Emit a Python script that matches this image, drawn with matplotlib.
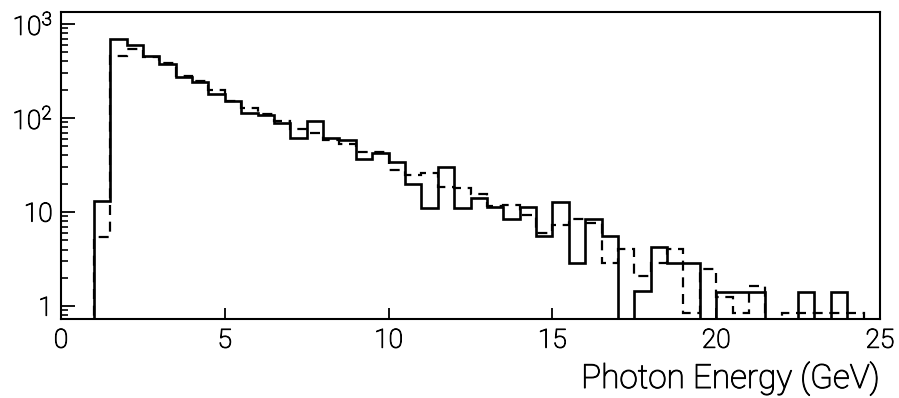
import numpy as np
import matplotlib
matplotlib.use("Agg")
import matplotlib.pyplot as plt
import matplotlib.patheffects as pe

# 0.5 GeV bins from 1 to 25 GeV
bin_lo = 1.0
bin_hi = 25.0
bin_width = 0.5

# solid histogram (data)
solid_counts = [13, 690, 600, 460, 375, 270, 240, 178, 150, 112,
                108, 89, 61, 92, 62, 59, 37, 42, 34, 20,
                11, 30, 11, 14, 11.2, 8.4, 11.2, 5.6, 12.7, 2.9,
                8.4, 5.6, 0, 1.45, 4.25, 2.9, 2.9, 0, 1.4, 1.4,
                1.4, 0, 0, 1.4, 0, 1.4, 0, 0]

# dashed histogram (simulation)
dashed_counts = [5.5, 460, 540, 450, 380, 282, 245, 200, 153, 128,
                 110, 92, 76, 70, 58, 53, 44, 44, 28, 25,
                 26, 18.5, 18, 15.7, 11.5, 11.9, 9.3, 6.0, 7.3, 8.4,
                 7.6, 2.9, 4.05, 2.08, 2.9, 4.05, 0.85, 2.5, 1.24, 0.85,
                 1.64, 0, 0.84, 0.84, 0.84, 0.84, 0.84, 0]

xticks = [0, 5, 10, 15, 20, 25]
yticks = [1, 10, 100, 1000]
ytick_labels = ["1", "10", "10$^{2}$", "10$^{3}$"]

plt.rcParams['font.family'] = ['Roboto', 'DejaVu Sans']
plt.rcParams['font.weight'] = 'light'
plt.rcParams['mathtext.default'] = 'regular'

edges = np.arange(bin_lo, bin_hi + bin_width / 2, bin_width)
floor = 1e-3  # empty bins drop below the axis

# thin outline so the light glyphs print solid black
ink = [pe.withStroke(linewidth=0.7, foreground='black')]


def with_floor(v):
    v = np.asarray(v, dtype=float)
    return np.where(v > 0, v, floor)


fig = plt.figure(figsize=(8.99, 3.98), dpi=100, facecolor='white')
ax = fig.add_axes([61 / 899, 1 - 319 / 398, (880 - 61) / 899, (319 - 12) / 398])

# prepend an empty bin so the first edge rises from the floor
plot_edges = np.concatenate([[0.0], edges])
ax.stairs(np.concatenate([[floor], with_floor(solid_counts)]), plot_edges,
          baseline=None, color='black', linewidth=1.9)
ax.stairs(np.concatenate([[floor], with_floor(dashed_counts)]), plot_edges,
          baseline=None, color='black', linewidth=1.6, linestyle=(0, (4.5, 3)))

ax.set_yscale('log')
ax.set_xlim(0, 25)
ax.set_ylim(0.73, 1340)

ax.set_xticks(xticks)
ax.set_xticklabels([str(t) for t in xticks], fontsize=19, color='black')
ax.set_yticks(yticks)
ax.set_yticklabels(ytick_labels, fontsize=19, color='black')
ax.yaxis.set_minor_locator(matplotlib.ticker.LogLocator(base=10, subs=np.arange(2, 10)))
ax.yaxis.set_minor_formatter(matplotlib.ticker.NullFormatter())
ax.xaxis.set_minor_locator(matplotlib.ticker.NullLocator())

ax.tick_params(axis='both', which='major', direction='in', width=1.3, color='black')
ax.tick_params(axis='y', which='major', length=10, pad=6)
ax.tick_params(axis='y', which='minor', direction='in', length=5, width=1.2)
ax.tick_params(axis='x', which='major', length=8, pad=7)

for lbl in ax.get_xticklabels() + ax.get_yticklabels():
    lbl.set_path_effects(ink)

for side in ax.spines.values():
    side.set_linewidth(1.5)

fig.text(880 / 899, 1 - 388 / 398, "Photon Energy (GeV)", ha='right', va='baseline',
         fontsize=24, color='black', path_effects=ink)

fig.savefig("out.png", dpi=100, facecolor='white')
